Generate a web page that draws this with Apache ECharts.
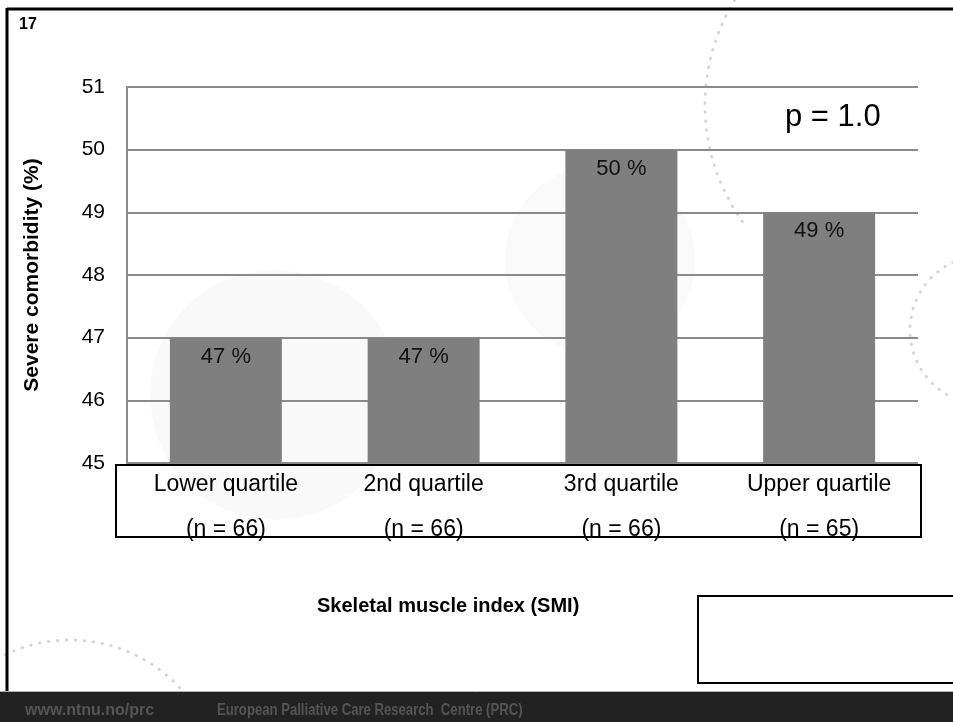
<!DOCTYPE html>
<html>
<head>
<meta charset="utf-8">
<script src="https://cdn.jsdelivr.net/npm/echarts@6/dist/echarts.min.js"></script>
<style>
  html, body { margin: 0; padding: 0; background: #fff; }
  #chart { width: 953px; height: 722px; }
</style>
</head>
<body>
<div id="chart"></div>
<script>
// Severe comorbidity by skeletal muscle index quartile
const categories = ['Lower quartile', '2nd quartile', '3rd quartile', 'Upper quartile'];
const groupSizes = ['(n = 66)', '(n = 66)', '(n = 66)', '(n = 65)'];
const comorbidityPct = [47, 47, 50, 49];
const yTicks = { min: 45, max: 51, step: 1 };

const FONT = '"Liberation Sans", Arial, sans-serif';
const chart = echarts.init(document.getElementById('chart'), null, { renderer: 'canvas' });

// faint dotted arcs of the slide background
function dottedArc(cx, cy, r, a0, a1) {
  return {
    type: 'arc',
    shape: { cx: cx, cy: cy, r: r, startAngle: a0, endAngle: a1 },
    style: { stroke: '#d2d2d2', lineWidth: 2.5, lineDash: [3, 6], fill: null },
    silent: true, z: -10
  };
}

chart.setOption({
  animation: false,
  backgroundColor: '#ffffff',
  grid: { left: 127, right: 35, top: 87, bottom: 259 },
  xAxis: {
    type: 'category',
    data: categories,
    axisLine: { show: false },
    axisTick: { show: false },
    axisLabel: {
      margin: -1,
      interval: 0,
      fontFamily: FONT,
      fontSize: 23,
      color: '#000',
      lineHeight: 45,
      formatter: function (v, i) { return v + '\n' + groupSizes[i]; }
    }
  },
  yAxis: {
    type: 'value',
    min: yTicks.min,
    max: yTicks.max,
    interval: yTicks.step,
    name: 'Severe comorbidity (%)',
    nameLocation: 'middle',
    nameGap: 84,
    nameTextStyle: { fontFamily: FONT, fontSize: 21, fontWeight: 'bold', color: '#000' },
    axisLine: { show: true, lineStyle: { color: '#8a8a8a', width: 2 } },
    axisTick: { show: false },
    axisLabel: { margin: 22, fontFamily: FONT, fontSize: 21, color: '#000' },
    splitLine: { lineStyle: { color: '#8a8a8a', width: 2 } }
  },
  series: [{
    type: 'bar',
    data: comorbidityPct,
    barWidth: 112,
    itemStyle: { color: '#7f7f7f' },
    label: {
      show: true,
      position: 'insideTop',
      distance: 8,
      fontFamily: FONT,
      fontSize: 22,
      color: '#111',
      formatter: function (p) { return p.value + ' %'; }
    },
    z: 2
  }],
  graphic: [
    // background decoration
    { type: 'circle', shape: { cx: 275, cy: 395, r: 125 }, style: { fill: '#f9f9f9' }, silent: true, z: -20 },
    { type: 'circle', shape: { cx: 600, cy: 260, r: 95 }, style: { fill: '#fafafa' }, silent: true, z: -20 },
    dottedArc(905, 105, 200, Math.PI * 0.8, Math.PI * 1.28),
    dottedArc(985, 330, 75, Math.PI * 0.55, Math.PI * 1.5),
    dottedArc(70, 790, 150, Math.PI * 1.05, Math.PI * 1.78),
    // slide border
    { type: 'line', shape: { x1: 7, y1: 9, x2: 953, y2: 9 }, style: { stroke: '#000', lineWidth: 3 }, z: 20 },
    { type: 'line', shape: { x1: 7, y1: 8, x2: 7, y2: 692 }, style: { stroke: '#000', lineWidth: 3 }, z: 20 },
    { type: 'text', left: 19, top: 17, style: { text: '17', fontFamily: FONT, fontSize: 16, fontWeight: 'bold', fill: '#000' }, z: 20 },
    // category box
    { type: 'rect', shape: { x: 116, y: 465, width: 805, height: 72 }, style: { fill: null, stroke: '#000', lineWidth: 2 }, z: 20 },
    // annotations
    { type: 'text', x: 785, y: 117, style: { text: 'p = 1.0', fontFamily: FONT, fontSize: 31, fill: '#000', verticalAlign: 'middle' }, z: 20 },
    { type: 'text', x: 317, y: 606, style: { text: 'Skeletal muscle index (SMI)', fontFamily: FONT, fontSize: 20, fontWeight: 'bold', fill: '#000', align: 'left', verticalAlign: 'middle' }, z: 20 },
    { type: 'rect', shape: { x: 698, y: 596, width: 262, height: 87 }, style: { fill: '#fff', stroke: '#000', lineWidth: 2 }, z: 20 },
    // footer bar
    { type: 'rect', shape: { x: 0, y: 692, width: 953, height: 30 }, style: { fill: '#222222' }, z: 20 },
    { type: 'line', shape: { x1: 0, y1: 691.5, x2: 953, y2: 691.5 }, style: { stroke: '#b0b0b0', lineWidth: 1 }, z: 21 },
    { type: 'text', x: 25, y: 711, style: { text: 'www.ntnu.no/prc', fontFamily: FONT, fontSize: 16, fontWeight: 'bold', fill: '#555', verticalAlign: 'middle' }, z: 21 },
    { type: 'text', x: 217, y: 711, scaleX: 0.82, originX: 0, originY: 0, style: { text: 'European Palliative Care Research  Centre (PRC)', fontFamily: FONT, fontSize: 16, fontWeight: 'bold', fill: '#555', verticalAlign: 'middle' }, z: 21 }
  ]
});
</script>
</body>
</html>
